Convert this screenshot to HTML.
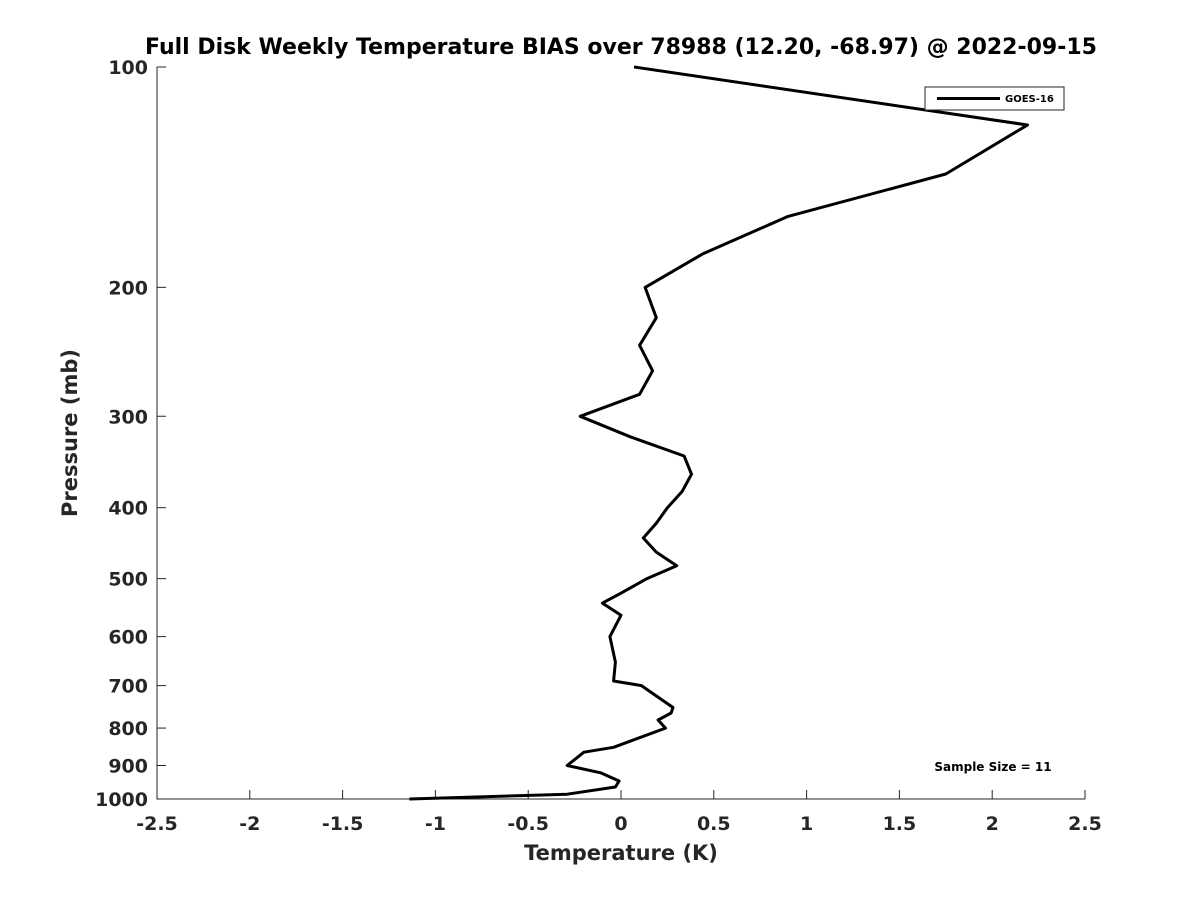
<!DOCTYPE html>
<html><head><meta charset="utf-8"><style>
body{margin:0;background:#fff;font-family:"Liberation Sans",sans-serif;}
svg text{font-family:"DejaVu Sans","Liberation Sans",sans-serif;font-weight:bold;fill:#262626}
</style></head><body>
<svg width="1200" height="900" viewBox="0 0 1200 900">
<rect width="1200" height="900" fill="#fff"/>
<text x="621" y="54" text-anchor="middle" font-size="22" style="fill:#000">Full Disk Weekly Temperature BIAS over 78988 (12.20, -68.97) @ 2022-09-15</text>
<g id="axes"></g>
<path id="line" fill="none" stroke="#000" stroke-width="3" stroke-linejoin="round"/>
<g>
<rect x="925" y="87" width="139" height="23" fill="#fff" stroke="#262626" stroke-width="1"/>
<line x1="937" y1="98.5" x2="1000" y2="98.5" stroke="#000" stroke-width="3"/>
<text x="1005" y="102" font-size="10" style="fill:#000">GOES-16</text>
</g>
<text x="993" y="771" text-anchor="middle" font-size="12" style="fill:#000">Sample Size = 11</text>
<text x="621" y="860" text-anchor="middle" font-size="21">Temperature (K)</text>
<text transform="translate(77,433) rotate(-90)" text-anchor="middle" font-size="21">Pressure (mb)</text>
</svg>
<script>
const pressures=[100,120,140,160,180,200,220,240,260,280,300,320,340,360,380,400,420,440,460,480,500,525,540,561,600,650,690,700,750,763,780,800,850,863,900,921,945,963,985,1000];
const bias=[0.07,2.19,1.75,0.90,0.44,0.13,0.19,0.10,0.17,0.10,-0.22,0.05,0.34,0.38,0.33,0.25,0.19,0.12,0.19,0.30,0.14,-0.01,-0.10,0.00,-0.06,-0.03,-0.04,0.11,0.28,0.27,0.20,0.24,-0.04,-0.20,-0.29,-0.11,-0.01,-0.03,-0.29,-1.14];
const xTicks=[-2.5,-2,-1.5,-1,-0.5,0,0.5,1,1.5,2,2.5];
const yTicks=[100,200,300,400,500,600,700,800,900,1000];
const X0=157,X1=1085,Y0=67,Y1=799;
const xs=v=>X0+(v+2.5)/5*(X1-X0);
const ys=p=>Y0+(Math.log10(p)-2)*(Y1-Y0);
const NS="http://www.w3.org/2000/svg";
const g=document.getElementById('axes');
function mk(t,a){const e=document.createElementNS(NS,t);for(const k in a)e.setAttribute(k,a[k]);g.appendChild(e);return e;}
let ax=mk('path',{d:`M${X0},${Y0}V${Y1}H${X1}`,fill:'none',stroke:'#262626','stroke-width':1});


xTicks.forEach(v=>{const x=xs(v);
 mk('line',{x1:x,x2:x,y1:Y1,y2:Y1-9,stroke:'#262626'});
 const t=mk('text',{x:x,y:Y1+31,'text-anchor':'middle','font-size':19});t.textContent=String(v);
 
 });
yTicks.forEach(p=>{const y=ys(p);
 mk('line',{x1:X0,x2:X0+9,y1:y,y2:y,stroke:'#262626'});
 const t=mk('text',{x:X0-9,y:y+7,'text-anchor':'end','font-size':19});t.textContent=String(p);
 
 });
document.getElementById('line').setAttribute('d',pressures.map((p,i)=>(i?'L':'M')+xs(bias[i]).toFixed(1)+','+ys(p).toFixed(1)).join(''));
</script>
</body></html>
